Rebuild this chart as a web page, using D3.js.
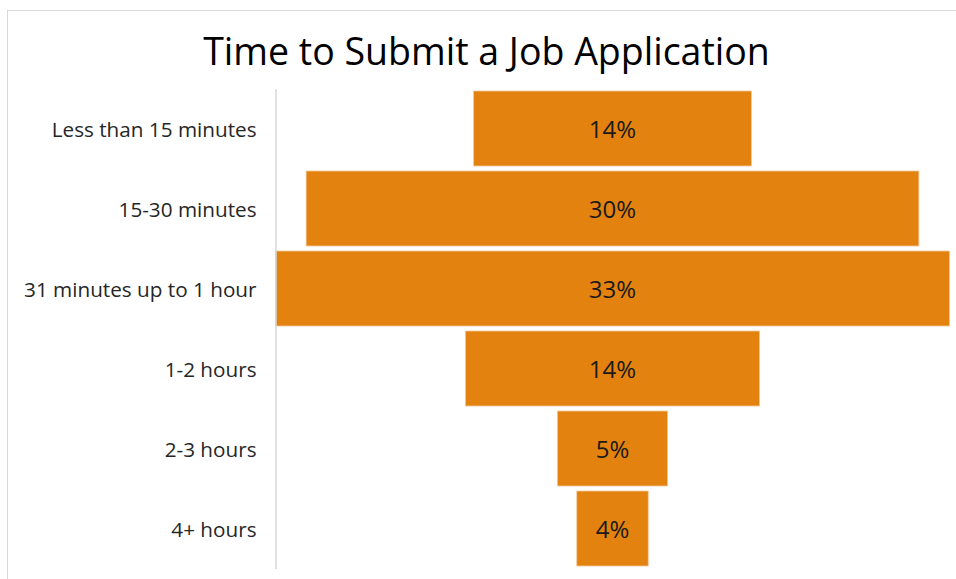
<!DOCTYPE html>
<html>
<head>
<meta charset="utf-8">
<script src="https://cdn.jsdelivr.net/npm/d3@7"></script>
<style>
  html, body { margin: 0; padding: 0; background: #fff; }
  svg { display: block; }
</style>
</head>
<body>
<svg id="chart" width="956" height="579"></svg>
<script>
// Funnel data: share of respondents by time taken to submit
const categories = [
  "Less than 15 minutes",
  "15-30 minutes",
  "31 minutes up to 1 hour",
  "1-2 hours",
  "2-3 hours",
  "4+ hours"
];
const shares = [13.6, 30.0, 33.0, 14.4, 5.4, 3.5];
const chartTitle = "Time to Submit a Job Application";

const W = 956, H = 579;
const svg = d3.select("#chart");
const font = "'Open Sans', Lato, sans-serif";

// chart frame
svg.append("rect")
  .attr("x", 7.5).attr("y", 10.5)
  .attr("width", 980).attr("height", 600)
  .attr("fill", "#fff")
  .attr("stroke", "#d9d9d9").attr("stroke-width", 1);

svg.append("text")
  .attr("x", 486.5).attr("y", 65)
  .attr("text-anchor", "middle")
  .attr("font-family", font)
  .attr("font-size", 37.5)
  .attr("fill", "#000")
  .text(chartTitle);

const plot = { left: 275.5, right: 949.5, top: 88.5, bottom: 568.5 };
const center = (plot.left + plot.right) / 2;

const y = d3.scaleBand()
  .domain(categories)
  .range([plot.top, plot.bottom])
  .paddingInner(0.0625)
  .paddingOuter(0.03125);

const maxShare = d3.max(shares);
const w = d3.scaleLinear()
  .domain([0, maxShare])
  .range([0, plot.right - plot.left]);

const rows = categories.map((c, i) => ({ cat: c, v: shares[i] }));

svg.append("g")
  .selectAll("rect")
  .data(rows)
  .join("rect")
  .attr("x", d => center - w(d.v) / 2)
  .attr("y", d => y(d.cat))
  .attr("width", d => w(d.v))
  .attr("height", y.bandwidth())
  .attr("fill", "#e3820f")
  .attr("stroke", "#f5c89a")
  .attr("stroke-width", 0.8);

// vertical category axis
const axis = d3.axisLeft(y).tickSize(0).tickPadding(19);
const gAxis = svg.append("g")
  .attr("transform", `translate(${plot.left},0)`)
  .call(axis);
gAxis.select(".domain").attr("stroke", "#d9d9d9").attr("stroke-width", 1.5);
gAxis.selectAll(".tick text")
  .attr("font-family", font)
  .attr("font-size", 20.7)
  .attr("dy", "0.4em")
  .attr("fill", "#262626");

const fmt = d3.format(".0f");
svg.append("g")
  .selectAll("text")
  .data(rows)
  .join("text")
  .attr("x", center)
  .attr("y", d => y(d.cat) + y.bandwidth() / 2)
  .attr("dy", "0.4em")
  .attr("text-anchor", "middle")
  .attr("font-family", font)
  .attr("font-size", 24)
  .attr("fill", "#1a1a1a")
  .text(d => fmt(d.v) + "%");
</script>
</body>
</html>
